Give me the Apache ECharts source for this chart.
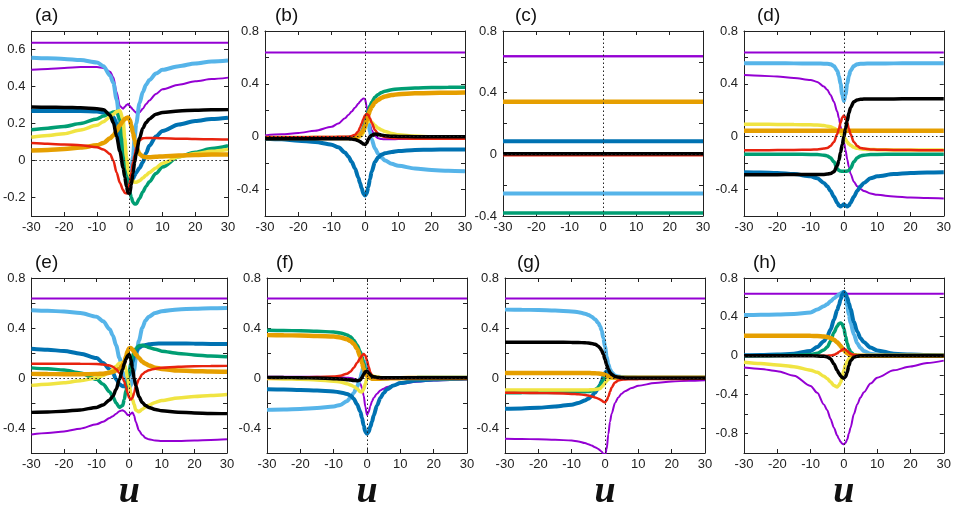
<!DOCTYPE html>
<html><head><meta charset="utf-8">
<script src="https://cdn.jsdelivr.net/npm/echarts@6/dist/echarts.min.js"></script>
<style>html,body{margin:0;padding:0;background:#fff}#c{width:954px;height:512px}</style>
</head><body><div id="c"></div>
<script>
// ---------- data ----------
const U = [-30,-25,-20,-15,-10,-8,-6,-5,-4,-3,-2,-1.5,-1,-0.5,0,0.5,1,1.5,2,3,4,5,6,8,10,15,20,25,30];
const U_ENDS = [-30, 30];
const xTickValues = [-30,-20,-10,0,10,20,30];
const levelPurple = [0.637, 0.637];

// (a)
const a_P  = [0.49,0.495,0.5,0.505,0.505,0.5,0.48,0.45,0.37,0.295,0.28,0.29,0.3,0.305,0.295,0.285,0.275,0.265,0.258,0.26,0.28,0.305,0.325,0.36,0.385,0.41,0.428,0.44,0.448];
const a_LB = [0.556,0.553,0.549,0.543,0.53,0.51,0.46,0.42,0.33,0.2,0.07,0.02,-0.03,-0.06,-0.07,-0.05,0.02,0.12,0.2,0.31,0.37,0.41,0.435,0.47,0.49,0.51,0.525,0.535,0.54];
const a_B  = [0.268,0.268,0.268,0.267,0.265,0.26,0.25,0.235,0.2,0.12,0.02,-0.03,-0.07,-0.1,-0.11,-0.11,-0.1,-0.08,-0.065,-0.04,-0.01,0.04,0.08,0.13,0.16,0.195,0.213,0.224,0.231];
const a_G  = [0.166,0.175,0.184,0.2,0.225,0.24,0.255,0.262,0.265,0.22,0.04,-0.02,-0.08,-0.13,-0.17,-0.2,-0.225,-0.235,-0.235,-0.205,-0.17,-0.14,-0.115,-0.07,-0.035,0.02,0.045,0.065,0.08];
const a_Y  = [0.126,0.135,0.145,0.165,0.19,0.21,0.235,0.25,0.265,0.27,0.22,0.12,0.02,-0.05,-0.08,-0.1,-0.11,-0.117,-0.118,-0.11,-0.095,-0.08,-0.065,-0.04,-0.015,0.02,0.038,0.05,0.06];
const a_O  = [0.054,0.057,0.062,0.07,0.082,0.095,0.12,0.135,0.16,0.19,0.215,0.225,0.23,0.232,0.22,0.19,0.15,0.11,0.075,0.035,0.022,0.018,0.018,0.02,0.022,0.027,0.03,0.032,0.033];
const a_R  = [0.094,0.09,0.087,0.082,0.072,0.06,0.035,0.0,-0.065,-0.12,-0.16,-0.175,-0.178,-0.16,-0.12,-0.065,-0.01,0.03,0.07,0.108,0.12,0.122,0.122,0.121,0.12,0.118,0.116,0.115,0.113];
const a_K  = [0.289,0.288,0.287,0.285,0.28,0.275,0.245,0.205,0.13,0.05,-0.04,-0.09,-0.14,-0.175,-0.178,-0.13,-0.07,-0.01,0.04,0.12,0.175,0.205,0.225,0.25,0.26,0.268,0.272,0.274,0.275];

// (b)
const b_P  = [0.01,0.018,0.028,0.045,0.075,0.1,0.14,0.165,0.19,0.22,0.25,0.265,0.28,0.29,0.285,0.23,0.15,0.09,0.05,0.005,-0.012,-0.018,-0.02,-0.02,-0.018,-0.015,-0.012,-0.01,-0.01];
const b_LB = [-0.01,-0.01,-0.01,-0.01,-0.01,-0.01,-0.008,-0.006,-0.005,-0.003,0.0,0.01,0.03,0.07,0.12,0.15,0.12,0.04,-0.02,-0.09,-0.13,-0.16,-0.18,-0.205,-0.22,-0.24,-0.252,-0.258,-0.262];
const b_B  = [-0.015,-0.02,-0.03,-0.04,-0.06,-0.08,-0.12,-0.15,-0.19,-0.24,-0.31,-0.35,-0.39,-0.43,-0.445,-0.43,-0.38,-0.32,-0.265,-0.19,-0.155,-0.135,-0.125,-0.115,-0.108,-0.1,-0.098,-0.097,-0.096];
const b_G  = [-0.01,-0.01,-0.01,-0.01,-0.01,-0.01,-0.01,-0.01,-0.005,0.0,0.01,0.02,0.035,0.06,0.1,0.15,0.2,0.235,0.26,0.3,0.32,0.335,0.345,0.355,0.362,0.368,0.372,0.374,0.375];
const b_Y  = [-0.01,-0.01,-0.01,-0.01,-0.01,-0.01,-0.01,-0.01,-0.01,-0.01,-0.005,0.0,0.01,0.03,0.06,0.1,0.12,0.12,0.11,0.085,0.065,0.05,0.04,0.025,0.015,0.005,0.0,-0.003,-0.005];
const b_O  = [-0.01,-0.01,-0.01,-0.01,-0.01,-0.01,-0.01,-0.01,-0.008,-0.005,0.005,0.015,0.03,0.05,0.08,0.12,0.165,0.2,0.225,0.26,0.28,0.295,0.305,0.315,0.322,0.328,0.331,0.333,0.334];
const b_R  = [-0.005,-0.005,-0.004,-0.003,-0.002,-0.001,0.0,0.0,0.005,0.015,0.04,0.07,0.1,0.135,0.16,0.172,0.165,0.14,0.105,0.05,0.02,0.005,-0.003,-0.01,-0.012,-0.015,-0.015,-0.015,-0.015];
const b_K  = [-0.015,-0.015,-0.015,-0.015,-0.015,-0.015,-0.015,-0.016,-0.018,-0.022,-0.03,-0.037,-0.045,-0.055,-0.058,-0.05,-0.02,0.0,0.012,0.02,0.018,0.012,0.008,0.004,0.002,0.0,0.0,0.0,0.0];

// (c) all constant
const c_P  = [0.637,0.637];
const c_LB = [-0.254,-0.254];
const c_B  = [0.085,0.085];
const c_G  = [-0.38,-0.38];
const c_Y  = [0.0,0.0];
const c_O  = [0.341,0.341];
const c_R  = [-0.006,-0.006];
const c_K  = [0.003,0.003];

// (d)
const d_P  = [0.467,0.462,0.455,0.445,0.43,0.415,0.38,0.355,0.315,0.265,0.19,0.14,0.08,0.02,-0.04,-0.1,-0.17,-0.23,-0.28,-0.34,-0.375,-0.395,-0.41,-0.43,-0.44,-0.452,-0.46,-0.464,-0.467];
const d_LB = [0.556,0.556,0.556,0.555,0.554,0.554,0.553,0.552,0.548,0.535,0.5,0.46,0.4,0.32,0.27,0.32,0.4,0.46,0.5,0.535,0.548,0.552,0.553,0.554,0.554,0.555,0.556,0.556,0.556];
const d_B  = [-0.268,-0.27,-0.275,-0.283,-0.3,-0.315,-0.35,-0.375,-0.41,-0.455,-0.5,-0.52,-0.528,-0.52,-0.512,-0.52,-0.528,-0.52,-0.5,-0.455,-0.41,-0.375,-0.35,-0.315,-0.3,-0.283,-0.275,-0.27,-0.268];
const d_G  = [-0.133,-0.133,-0.133,-0.133,-0.134,-0.135,-0.14,-0.145,-0.16,-0.19,-0.24,-0.255,-0.26,-0.262,-0.262,-0.262,-0.26,-0.255,-0.24,-0.19,-0.16,-0.145,-0.14,-0.135,-0.134,-0.133,-0.133,-0.133,-0.133];
const d_Y  = [0.094,0.094,0.093,0.092,0.09,0.088,0.085,0.08,0.075,0.065,0.05,0.04,0.03,0.015,0.0,-0.02,-0.04,-0.055,-0.065,-0.08,-0.088,-0.092,-0.095,-0.097,-0.098,-0.1,-0.1,-0.1,-0.1];
const d_O  = [0.046,0.046,0.046,0.046,0.046,0.046,0.046,0.046,0.046,0.046,0.046,0.046,0.046,0.046,0.046,0.046,0.046,0.046,0.046,0.046,0.046,0.046,0.046,0.046,0.046,0.046,0.046,0.046,0.046];
const d_R  = [-0.102,-0.102,-0.101,-0.1,-0.098,-0.096,-0.09,-0.085,-0.07,-0.04,0.02,0.06,0.105,0.145,0.16,0.145,0.105,0.06,0.02,-0.04,-0.07,-0.085,-0.09,-0.096,-0.098,-0.1,-0.101,-0.102,-0.102];
const d_K  = [-0.287,-0.287,-0.287,-0.286,-0.286,-0.285,-0.285,-0.283,-0.278,-0.265,-0.22,-0.18,-0.12,-0.06,0.0,0.06,0.12,0.18,0.22,0.265,0.278,0.283,0.285,0.285,0.286,0.286,0.287,0.287,0.287];

// (e)
const e_P  = [-0.452,-0.44,-0.427,-0.405,-0.37,-0.35,-0.32,-0.305,-0.285,-0.265,-0.258,-0.265,-0.28,-0.295,-0.298,-0.285,-0.275,-0.3,-0.35,-0.42,-0.455,-0.48,-0.49,-0.5,-0.503,-0.503,-0.5,-0.495,-0.49];
const e_LB = [0.542,0.538,0.532,0.52,0.49,0.455,0.39,0.34,0.26,0.16,0.05,0.0,-0.04,-0.07,-0.08,-0.06,-0.01,0.06,0.15,0.3,0.4,0.46,0.49,0.52,0.535,0.548,0.555,0.558,0.56];
const e_B  = [0.234,0.226,0.216,0.195,0.16,0.12,0.07,0.04,-0.01,-0.05,-0.065,-0.065,-0.05,-0.02,0.02,0.08,0.13,0.17,0.205,0.24,0.258,0.265,0.27,0.275,0.276,0.276,0.275,0.273,0.272];
const e_G  = [0.081,0.074,0.064,0.04,-0.01,-0.05,-0.11,-0.15,-0.2,-0.235,-0.22,-0.17,-0.1,-0.02,0.05,0.12,0.17,0.21,0.235,0.258,0.262,0.255,0.245,0.23,0.215,0.197,0.185,0.176,0.17];
const e_Y  = [-0.059,-0.05,-0.038,-0.022,0.0,0.02,0.05,0.068,0.095,0.118,0.125,0.11,0.07,0.0,-0.06,-0.12,-0.17,-0.21,-0.255,-0.27,-0.25,-0.232,-0.218,-0.195,-0.18,-0.16,-0.148,-0.14,-0.132];
const e_O  = [0.033,0.032,0.03,0.03,0.032,0.035,0.042,0.05,0.06,0.075,0.1,0.13,0.17,0.215,0.238,0.24,0.228,0.21,0.19,0.16,0.13,0.115,0.1,0.083,0.073,0.06,0.055,0.052,0.05];
const e_R  = [0.115,0.115,0.115,0.114,0.112,0.108,0.1,0.09,0.07,0.04,0.0,-0.03,-0.07,-0.12,-0.16,-0.172,-0.16,-0.12,-0.07,-0.01,0.03,0.05,0.062,0.075,0.082,0.09,0.094,0.096,0.097];
const e_K  = [-0.275,-0.272,-0.266,-0.255,-0.235,-0.215,-0.175,-0.145,-0.09,-0.01,0.07,0.115,0.15,0.178,0.188,0.15,0.08,0.0,-0.06,-0.15,-0.195,-0.22,-0.235,-0.252,-0.262,-0.273,-0.28,-0.283,-0.285];

// (f)
const f_P  = [0.01,0.01,0.01,0.01,0.008,0.006,0.003,0.0,-0.005,-0.015,-0.045,-0.08,-0.14,-0.23,-0.295,-0.27,-0.225,-0.185,-0.16,-0.125,-0.1,-0.085,-0.072,-0.058,-0.045,-0.03,-0.02,-0.015,-0.012];
const f_LB = [-0.255,-0.252,-0.247,-0.24,-0.228,-0.215,-0.185,-0.16,-0.12,-0.07,0.0,0.05,0.1,0.13,0.1,0.04,0.01,0.003,0.0,0.0,0.0,0.0,0.0,0.0,0.0,0.0,0.0,0.0,0.0];
const f_B  = [-0.09,-0.092,-0.095,-0.1,-0.107,-0.115,-0.127,-0.14,-0.165,-0.21,-0.27,-0.32,-0.38,-0.43,-0.445,-0.43,-0.39,-0.35,-0.3,-0.22,-0.16,-0.12,-0.09,-0.06,-0.04,-0.02,-0.012,-0.008,-0.005];
const f_G  = [0.382,0.38,0.378,0.374,0.368,0.36,0.345,0.33,0.305,0.265,0.21,0.17,0.12,0.07,0.035,0.01,0.0,-0.005,-0.008,-0.008,-0.007,-0.005,-0.003,0.0,0.002,0.004,0.005,0.005,0.005];
const f_Y  = [-0.005,-0.007,-0.01,-0.015,-0.025,-0.032,-0.045,-0.055,-0.068,-0.085,-0.11,-0.112,-0.09,-0.045,0.0,0.02,0.025,0.02,0.015,0.008,0.004,0.002,0.0,0.0,0.0,0.0,0.0,0.0,0.0];
const f_O  = [0.343,0.342,0.34,0.337,0.332,0.325,0.31,0.297,0.275,0.235,0.17,0.12,0.075,0.04,0.02,0.008,0.0,-0.005,-0.005,-0.005,-0.005,-0.004,-0.003,-0.002,-0.001,0.0,0.0,0.0,0.0];
const f_R  = [0.0,0.002,0.005,0.008,0.012,0.018,0.035,0.05,0.08,0.12,0.16,0.18,0.192,0.18,0.14,0.09,0.045,0.02,0.008,0.0,-0.003,-0.003,-0.002,-0.001,0.0,0.0,0.0,0.0,0.0];
const f_K  = [0.005,0.004,0.002,0.0,-0.005,-0.008,-0.013,-0.016,-0.02,-0.022,-0.015,0.005,0.03,0.05,0.055,0.04,0.025,0.015,0.01,0.005,0.003,0.002,0.002,0.002,0.002,0.002,0.002,0.002,0.002];

// (g)
const g_P  = [-0.486,-0.488,-0.49,-0.494,-0.5,-0.507,-0.52,-0.53,-0.54,-0.553,-0.567,-0.578,-0.59,-0.605,-0.62,-0.57,-0.45,-0.35,-0.285,-0.2,-0.155,-0.125,-0.105,-0.08,-0.062,-0.04,-0.028,-0.022,-0.018];
const g_LB = [0.547,0.546,0.544,0.54,0.533,0.527,0.515,0.505,0.49,0.47,0.44,0.415,0.38,0.32,0.25,0.17,0.11,0.07,0.045,0.02,0.012,0.008,0.006,0.004,0.003,0.002,0.002,0.002,0.002];
const g_B  = [-0.246,-0.243,-0.238,-0.228,-0.213,-0.2,-0.18,-0.165,-0.145,-0.118,-0.08,-0.055,-0.025,0.01,0.04,0.055,0.05,0.035,0.022,0.01,0.005,0.003,0.002,0.002,0.002,0.002,0.002,0.002,0.002];
const g_G  = [-0.117,-0.117,-0.116,-0.115,-0.113,-0.112,-0.11,-0.108,-0.103,-0.093,-0.075,-0.06,-0.04,-0.015,0.005,0.012,0.01,0.007,0.005,0.003,0.001,0.001,0.001,0.001,0.001,0.001,0.001,0.001,0.001];
const g_Y  = [-0.095,-0.095,-0.095,-0.095,-0.095,-0.095,-0.095,-0.095,-0.094,-0.092,-0.088,-0.083,-0.073,-0.058,-0.04,-0.023,-0.01,-0.003,0.0,0.0,0.0,0.0,0.0,0.0,0.0,0.0,0.0,0.0,0.0];
const g_O  = [0.041,0.041,0.041,0.041,0.04,0.04,0.04,0.04,0.039,0.038,0.036,0.035,0.033,0.03,0.026,0.02,0.014,0.01,0.007,0.004,0.002,0.002,0.002,0.002,0.002,0.002,0.002,0.002,0.002];
const g_R  = [-0.118,-0.119,-0.12,-0.122,-0.127,-0.13,-0.136,-0.14,-0.147,-0.155,-0.165,-0.172,-0.18,-0.19,-0.195,-0.18,-0.15,-0.11,-0.075,-0.035,-0.02,-0.014,-0.012,-0.01,-0.009,-0.008,-0.007,-0.007,-0.006];
const g_K  = [0.287,0.287,0.287,0.286,0.285,0.284,0.282,0.28,0.277,0.27,0.255,0.24,0.22,0.19,0.15,0.105,0.07,0.045,0.028,0.012,0.006,0.003,0.001,0.0,0.0,0.0,0.0,0.0,0.0];

// (h)
const h_P  = [-0.121,-0.135,-0.158,-0.205,-0.31,-0.38,-0.5,-0.56,-0.65,-0.74,-0.82,-0.855,-0.885,-0.905,-0.91,-0.895,-0.86,-0.8,-0.74,-0.6,-0.5,-0.43,-0.375,-0.285,-0.225,-0.15,-0.11,-0.075,-0.05];
const h_LB = [0.42,0.421,0.424,0.43,0.445,0.475,0.51,0.53,0.56,0.59,0.615,0.63,0.64,0.65,0.655,0.6,0.51,0.42,0.34,0.22,0.13,0.08,0.05,0.02,0.01,0.004,0.002,0.002,0.002];
const h_B  = [0.005,0.008,0.012,0.022,0.05,0.09,0.15,0.2,0.27,0.37,0.47,0.52,0.58,0.63,0.655,0.64,0.6,0.54,0.48,0.35,0.25,0.18,0.14,0.085,0.055,0.022,0.012,0.008,0.005];
const h_G  = [0.0,0.0,0.002,0.005,0.012,0.025,0.06,0.09,0.15,0.24,0.305,0.33,0.338,0.325,0.28,0.2,0.13,0.075,0.04,0.012,0.004,0.0,0.0,0.0,0.0,0.0,0.0,0.0,0.0];
const h_Y  = [-0.066,-0.08,-0.095,-0.112,-0.148,-0.17,-0.21,-0.235,-0.27,-0.305,-0.32,-0.305,-0.275,-0.22,-0.15,-0.09,-0.055,-0.03,-0.017,-0.006,-0.002,0.0,0.0,0.0,0.0,0.0,0.0,0.0,0.0];
const h_O  = [0.207,0.207,0.207,0.206,0.205,0.203,0.198,0.193,0.183,0.165,0.14,0.12,0.1,0.078,0.058,0.04,0.026,0.016,0.01,0.004,0.001,0.0,0.0,0.0,0.0,0.0,0.0,0.0,0.0];
const h_R  = [0.0,0.0,0.0,0.0,0.0,0.0,0.0,0.0,0.004,0.01,0.025,0.04,0.05,0.062,0.072,0.065,0.05,0.035,0.02,0.008,0.003,0.0,0.0,0.0,0.0,0.0,0.0,0.0,0.0];
const h_K  = [0.0,0.0,0.0,0.0,0.0,-0.002,-0.006,-0.012,-0.03,-0.085,-0.15,-0.18,-0.205,-0.225,-0.23,-0.215,-0.17,-0.1,-0.05,-0.015,-0.005,0.0,0.0,0.0,0.0,0.0,0.0,0.0,0.0];

// y-axis tick label lists
const yLabA = [-0.2,0,0.2,0.4,0.6];
const yLab4 = [-0.4,0,0.4,0.8];
const yLabH = [-0.8,-0.4,0,0.4,0.8];
const yTickStd = [-0.4,-0.2,0,0.2,0.4,0.6];
const yTickC = [-0.2,0,0.2,0.4,0.6];
const yTickH = [-0.8,-0.6,-0.4,-0.2,0,0.2,0.4,0.6];

// ---------- layout & styles ----------
const panels = [
  {name:'(a)', left:28,  top:31,  yMin:-0.3, yMax:0.7, lab:yLabA, tick:yLabA, x:U, d:{P:a_P,LB:a_LB,B:a_B,G:a_G,Y:a_Y,O:a_O,R:a_R,K:a_K}, tl:35},
  {name:'(b)', left:265, top:31,  yMin:-0.6, yMax:0.8, lab:yLab4, tick:yTickStd, x:U, d:{P:b_P,LB:b_LB,B:b_B,G:b_G,Y:b_Y,O:b_O,R:b_R,K:b_K}, tl:275},
  {name:'(c)', left:503, top:31,  yMin:-0.4, yMax:0.8, lab:yLab4, tick:yTickC, x:U_ENDS, d:{P:c_P,LB:c_LB,B:c_B,G:c_G,Y:c_Y,O:c_O,R:c_R,K:c_K}, tl:515},
  {name:'(d)', left:744, top:31,  yMin:-0.6, yMax:0.8, lab:yLab4, tick:yTickStd, x:U, d:{P:d_P,LB:d_LB,B:d_B,G:d_G,Y:d_Y,O:d_O,R:d_R,K:d_K}, tl:757},
  {name:'(e)', left:27,  top:278, yMin:-0.6, yMax:0.8, lab:yLab4, tick:yTickStd, x:U, d:{P:e_P,LB:e_LB,B:e_B,G:e_G,Y:e_Y,O:e_O,R:e_R,K:e_K}, tl:35, u:true},
  {name:'(f)', left:267, top:278, yMin:-0.6, yMax:0.8, lab:yLab4, tick:yTickStd, x:U, d:{P:f_P,LB:f_LB,B:f_B,G:f_G,Y:f_Y,O:f_O,R:f_R,K:f_K}, tl:276, u:true},
  {name:'(g)', left:505, top:278, yMin:-0.6, yMax:0.8, lab:yLab4, tick:yTickStd, x:U, d:{P:g_P,LB:g_LB,B:g_B,G:g_G,Y:g_Y,O:g_O,R:g_R,K:g_K}, tl:517, u:true},
  {name:'(h)', left:744, top:278, yMin:-1.0, yMax:0.8, lab:yLabH, tick:yTickH, x:U, d:{P:h_P,LB:h_LB,B:h_B,G:h_G,Y:h_Y,O:h_O,R:h_R,K:h_K}, tl:753, u:true}
];
const W = 200, H = 185;
const STYLE = {
  P:  {color:'#9400D3', width:2},
  LB: {color:'#56B4E9', width:4},
  B:  {color:'#0072B2', width:4},
  G:  {color:'#009E73', width:3.5},
  Y:  {color:'#F0E442', width:3.5},
  O:  {color:'#E69F00', width:4.5},
  R:  {color:'#E8230F', width:2.5},
  K:  {color:'#000000', width:3.5}
};
const ORDER = ['P','LB','B','G','Y','O','R','K'];
const AX = '#222';
const fmt = v => String(Math.round(v*10)/10);

const option = {animation:false, backgroundColor:'#fff', grid:[], xAxis:[], yAxis:[], series:[], title:[]};
const zip = (xs, ys) => xs.map((x,i)=>[x, ys[i]]);

panels.forEach((p, i) => {
  option.grid.push({left:p.left, top:p.top, width:W, height:H});
  const xi = option.xAxis.length, yi = option.yAxis.length;
  const lineX = {show:true, onZero:false, lineStyle:{color:AX, width:1}};
  option.xAxis.push({
    gridIndex:i, type:'value', min:-30, max:30, position:'bottom',
    axisLine:lineX, splitLine:{show:false},
    axisTick:{inside:true, length:4, customValues:xTickValues, lineStyle:{color:AX}},
    axisLabel:{customValues:xTickValues, color:AX, fontSize:13, fontFamily:'Liberation Sans', margin:5, showMinLabel:true, showMaxLabel:true, formatter:fmt},
    name: p.u ? 'u' : '', nameLocation:'middle', nameGap:20,
    nameTextStyle:{fontFamily:'Liberation Serif', fontStyle:'italic', fontWeight:'bold', fontSize:38, color:'#111'}
  });
  option.xAxis.push({
    gridIndex:i, type:'value', min:-30, max:30, position:'top',
    axisLine:lineX, splitLine:{show:false},
    axisTick:{inside:true, length:4, customValues:xTickValues, lineStyle:{color:AX}},
    axisLabel:{show:false}
  });
  option.yAxis.push({
    gridIndex:i, type:'value', min:p.yMin, max:p.yMax, position:'left',
    axisLine:lineX, splitLine:{show:false},
    axisTick:{inside:true, length:4, customValues:p.tick, lineStyle:{color:AX}},
    axisLabel:{customValues:p.lab, color:AX, fontSize:13, fontFamily:'Liberation Sans', margin:6, showMinLabel:true, showMaxLabel:true, formatter:fmt}
  });
  option.yAxis.push({
    gridIndex:i, type:'value', min:p.yMin, max:p.yMax, position:'right',
    axisLine:lineX, splitLine:{show:false},
    axisTick:{inside:true, length:4, customValues:p.tick, lineStyle:{color:AX}},
    axisLabel:{show:false}
  });
  // constant purple level
  option.series.push({
    type:'line', xAxisIndex:xi, yAxisIndex:yi, data:zip(U_ENDS, levelPurple),
    showSymbol:false, silent:true, lineStyle:{color:STYLE.P.color, width:2},
    markLine:{silent:true, symbol:['none','none'], label:{show:false}, animation:false,
      lineStyle:{type:[1.5,2.5], color:'#222', width:1},
      data:[{yAxis:0},{xAxis:0}]}
  });
  ORDER.forEach(k => {
    option.series.push({
      type:'line', xAxisIndex:xi, yAxisIndex:yi, data:zip(p.x, p.d[k]),
      showSymbol:false, silent:true, smooth:0.3, smoothMonotone:'x', clip:true,
      lineStyle:{color:STYLE[k].color, width:STYLE[k].width}
    });
  });
  option.title.push({text:p.name, left:p.tl, top: p.top - 25, padding:0,
    textStyle:{fontSize:19, fontWeight:'normal', fontFamily:'Liberation Sans', color:'#111'}});
});

const chart = echarts.init(document.getElementById('c'), null, {renderer:'canvas'});
chart.setOption(option);
</script>
</body></html>
